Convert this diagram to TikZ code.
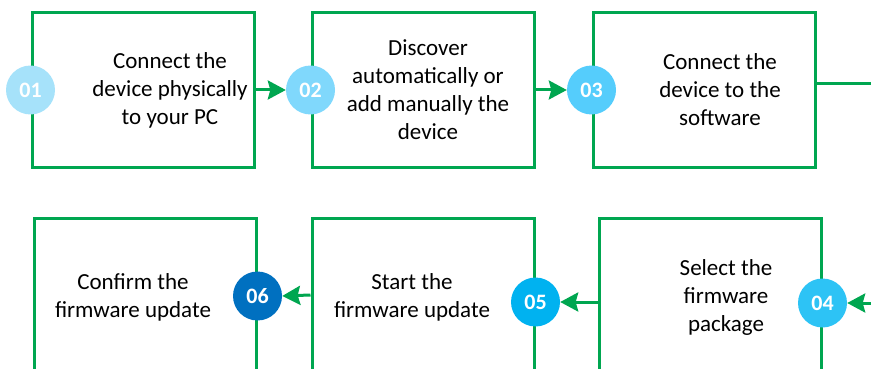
\documentclass[tikz,border=0pt]{standalone}
\usepackage{fontspec}
\setmainfont{Carlito}
\usetikzlibrary{arrows.meta}
\definecolor{flowgreen}{RGB}{0,166,80}
\definecolor{numa}{RGB}{166,226,250}
\definecolor{numb}{RGB}{128,216,252}
\definecolor{numc}{RGB}{85,205,252}
\definecolor{numd}{RGB}{45,195,245}
\definecolor{nume}{RGB}{0,178,240}
\definecolor{numf}{RGB}{0,112,192}

\begin{document}
\begin{tikzpicture}[x=1pt,y=-1pt,
    box/.style={draw=flowgreen, line width=3pt, minimum width=222pt, inner sep=0pt},
    num/.style={circle, fill=#1, minimum size=49pt, inner sep=0pt, text=white, font=\bfseries\fontsize{22}{24}\selectfont},
    txt/.style={align=center, font=\fontsize{23}{28}\selectfont},
    link/.style={draw=flowgreen, line width=3pt, -{Stealth[length=18pt,width=19pt,inset=2.5pt]}}]
    \useasboundingbox (0,0) rectangle (871,369);
    \clip (0,0) rectangle (871,369);
    \node[box, minimum height=154pt](s1) at (143,90){};
    \node[box, minimum height=154pt](s2) at (423,90){};
    \node[box, minimum height=154pt](s3) at (704,90){};
    \node[box, minimum height=158pt](s6) at (145,297){};
    \node[box, minimum height=158pt](s5) at (423,297){};
    \node[box, minimum height=158pt](s4) at (710,297){};
    \node[txt](t1) at ([xshift=27pt]s1.center){Connect the\\device physically\\to your PC};
    \node[txt](t2) at ([xshift=5pt]s2.center){Discover\\automatically or\\add manually the\\device};
    \node[txt](t3) at ([xshift=16pt]s3.center){Connect the\\device to the\\software};
    \node[txt](t4) at ([xshift=16pt]s4.center){Select the\\firmware\\package};
    \node[txt](t5) at ([xshift=-11pt]s5.center){Start the\\firmware update};
    \node[txt](t6) at ([xshift=-12pt]s6.center){Confirm the\\firmware update};
    \node[num=numa](n1) at (s1.west){01};
    \node[num=numb](n2) at (s2.west){02};
    \node[num=numc](n3) at (s3.west){03};
    \node[num=numd](n4) at ([yshift=-6pt]s4.east){04};
    \node[num=nume](n5) at ([yshift=-5pt]s5.east){05};
    \node[num=numf](n6) at ([yshift=1pt]s6.east){06};
    \coordinate (rt) at (871,84);
    \coordinate (rb) at (871,303);
    \draw[link](s1.east)--(n2.west);
    \draw[link](s2.east)--(n3.west);
    \draw[draw=flowgreen, line width=3pt]([yshift=6pt]s3.east)--(rt);
    \draw[link](rb)--(n4.east);
    \draw[link]([yshift=-5pt]s4.west)--(n5.east);
    \draw[link]([yshift=2pt]s5.west)--(n6.east);
\end{tikzpicture}
\end{document}
